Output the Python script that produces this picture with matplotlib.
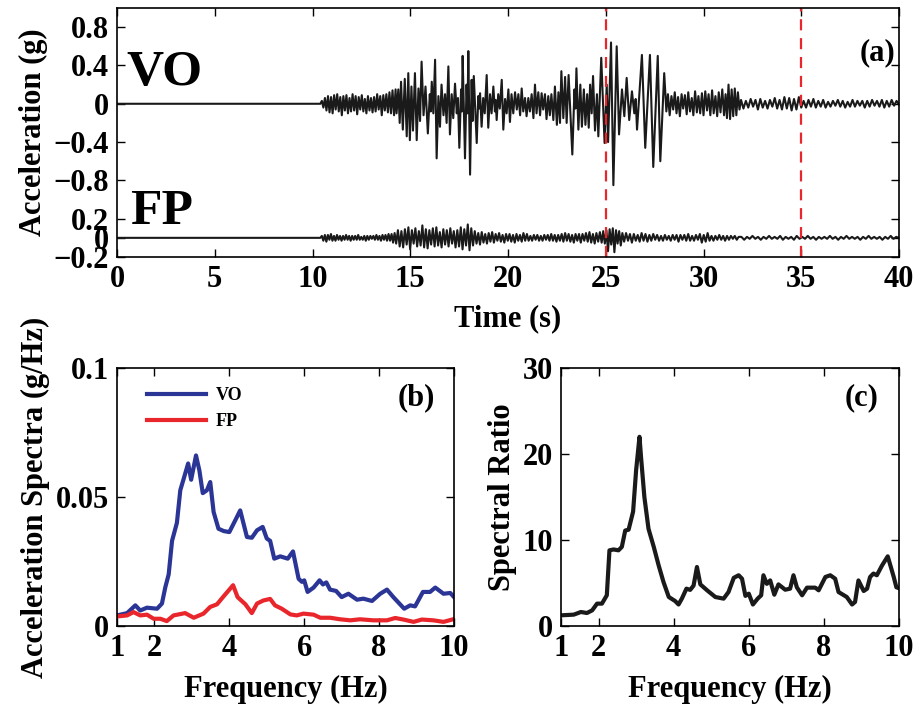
import numpy as np
import matplotlib
matplotlib.use("Agg")
import matplotlib.pyplot as plt

plt.rcParams['font.family'] = ['Liberation Serif', 'DejaVu Serif']
plt.rcParams['font.weight'] = 'bold'
plt.rcParams['axes.unicode_minus'] = True

# ---------------- Panel (a): acceleration time histories ----------------
# VO: quiet pre-event then small high-frequency arrivals (10.4-14.25 s)
vo_pre = [0, 0.03, -0.04, 0.06, -0.07, 0.08, -0.09, 0.07, -0.1, 0.09, -0.06, 0.1, -0.08, 0.07,
          -0.12, 0.08, -0.07, 0.09, -0.1, 0.06, -0.08, 0.1, -0.07, 0.08, -0.11, 0.07, -0.06, 0.09,
          -0.08, 0.05, -0.1, 0.08, -0.07, 0.06, -0.09, 0.07, -0.08, 0.1, -0.06, 0.08, -0.12, 0.09,
          -0.07, 0.1, -0.09, 0.12, -0.1, 0.14, -0.12, 0.15]
vo_pre_span = (10.4, 14.25)

# VO strong-motion part: (time, acceleration) extremes
vo_main_t = [14.30, 14.39, 14.46, 14.53, 14.62, 14.72, 14.82, 14.90, 14.98, 15.06, 15.14, 15.24,
             15.33, 15.42, 15.50, 15.58, 15.68, 15.78, 15.90, 16.00, 16.05, 16.10, 16.18, 16.27,
             16.35, 16.44, 16.52, 16.60, 16.70, 16.78, 16.86, 16.95, 17.03, 17.12, 17.20, 17.29,
             17.38, 17.44, 17.51, 17.60, 17.64, 17.68, 17.80, 17.88, 17.93, 17.97, 18.06, 18.14,
             18.19, 18.25, 18.40, 18.48, 18.52, 18.57, 18.65, 18.73, 18.81, 18.91, 18.99, 19.08,
             19.16, 19.25, 19.33, 19.37, 19.42, 19.50, 19.58, 19.68, 19.76, 19.85, 19.93, 20.02,
             20.10, 20.18, 20.27, 20.36, 20.45, 20.53, 20.62, 20.70, 20.78, 20.87, 20.95, 21.04,
             21.12, 21.21, 21.30, 21.38, 21.46, 21.55, 21.64, 21.72, 21.80, 21.89, 21.97, 22.06,
             22.14, 22.22, 22.32, 22.40, 22.50, 22.58, 22.66, 22.73, 22.83, 22.92, 23.00, 23.10,
             23.29, 23.40, 23.45, 23.50, 23.60, 23.70, 23.78, 23.88, 23.96, 24.05, 24.13, 24.20,
             24.28, 24.35, 24.45, 24.55, 24.62, 24.77, 24.94, 25.05, 25.12, 25.27, 25.39, 25.56,
             25.68, 25.83, 25.95, 26.07, 26.20, 26.34, 26.46, 26.53, 26.60, 26.85, 27.02, 27.26,
             27.43, 27.66, 27.79, 27.99, 28.10, 28.18, 28.27, 28.36, 28.45, 28.53, 28.62, 28.70,
             28.79, 28.88, 28.96, 29.05, 29.14, 29.22, 29.31, 29.40, 29.48, 29.57, 29.66, 29.74,
             29.83, 29.92, 30.00, 30.09, 30.18, 30.26, 30.35, 30.44, 30.52, 30.61, 30.70, 30.78,
             30.87, 30.96, 31.05, 31.13, 31.20, 31.28, 31.36, 31.44, 31.52, 31.60, 31.68, 31.76,
             31.84]
vo_main_a = [-0.10, 0.15, -0.20, 0.23, -0.27, 0.26, -0.34, 0.32, -0.38, 0.18, -0.28, 0.32,
             -0.38, 0.16, -0.18, 0.44, -0.12, 0.18, -0.31, 0.10, -0.08, 0.23, -0.10, 0.46,
             -0.57, 0.08, -0.24, 0.20, -0.12, 0.10, -0.20, 0.39, -0.32, 0.10, -0.15, 0.21,
             -0.10, 0.06, -0.46, 0.15, -0.08, 0.50, -0.57, 0.20, -0.10, 0.55, -0.74, 0.25,
             -0.18, 0.29, -0.41, 0.08, -0.05, 0.11, -0.24, 0.06, -0.10, 0.30, -0.25, 0.10,
             -0.10, 0.18, -0.08, 0.04, -0.17, 0.10, -0.05, 0.25, -0.27, 0.05, -0.10, 0.15,
             -0.19, 0.10, -0.10, 0.12, -0.06, 0.10, -0.12, 0.16, -0.08, 0.06, -0.13, 0.06,
             -0.08, 0.10, -0.15, 0.20, -0.10, 0.12, -0.12, 0.11, -0.06, 0.10, -0.16, 0.08,
             -0.12, 0.10, -0.17, 0.18, -0.22, 0.12, -0.20, 0.34, -0.15, 0.28, -0.20, 0.30,
             -0.53, 0.15, -0.05, 0.37, -0.27, 0.20, -0.24, 0.15, -0.22, 0.10, -0.25, 0.20,
             -0.10, 0.29, -0.28, 0.10, -0.34, 0.48, -0.41, 0.20, -0.40, 0.64, -0.85, 0.60,
             -0.32, 0.15, -0.13, 0.27, -0.17, 0.13, -0.10, 0.05, -0.27, 0.51, -0.46, 0.51,
             -0.66, 0.50, -0.60, 0.32, -0.08, 0.10, -0.12, 0.08, -0.06, 0.12, -0.10, 0.07,
             -0.13, 0.10, -0.05, 0.09, -0.11, 0.12, -0.08, 0.06, -0.12, 0.13, -0.09, 0.08,
             -0.10, 0.11, -0.12, 0.13, -0.07, 0.10, -0.12, 0.14, -0.10, 0.08, -0.13, 0.12,
             -0.09, 0.15, -0.12, 0.10, -0.15, 0.20, -0.16, 0.15, -0.13, 0.16, -0.12, 0.12,
             -0.06]

# VO coda
vo_tail1 = [0.04, -0.05, 0.03, -0.04, 0.05, -0.03, 0.04, -0.06, 0.05, -0.04, 0.03, -0.05, 0.04,
            -0.03, 0.06, -0.05, 0.04, -0.06, 0.07, -0.05, 0.06, -0.07, 0.05, -0.06, 0.07, -0.04]
vo_tail1_span = (31.92, 35.0)
vo_tail2 = [0.03, -0.04, 0.04, -0.03, 0.05, -0.04, 0.03, -0.03, 0.04, -0.04, 0.02, -0.03, 0.03,
            -0.02, 0.04, -0.03, 0.03, -0.04, 0.02, -0.03, 0.04, -0.03, 0.03, -0.02, 0.03, -0.04,
            0.03, -0.03, 0.04, -0.02, 0.03, -0.03, 0.04, -0.04, 0.03, -0.03, 0.04, -0.02, 0.03,
            -0.01]
vo_tail2_span = (35.12, 40.0)

# FP record (plotted with a vertical offset)
fp_seg1 = [0, 0.02, -0.03, 0.03, -0.04, 0.03, -0.02, 0.04, -0.03, 0.02, -0.03, 0.03, -0.02, 0.02,
           -0.03, 0.02, -0.02, 0.03, -0.02, 0.02, -0.03, 0.02, -0.02, 0.02, -0.02, 0.03, -0.02,
           0.01, -0.02, 0.02, -0.03, 0.02, -0.02, 0.02, -0.01, 0.02, -0.02, 0.03, -0.02, 0.02,
           -0.03, 0.03, -0.02, 0.03, -0.03, 0.04, -0.03, 0.04, -0.05, 0.05]
fp_seg1_span = (10.4, 14.2)
fp_seg2 = [-0.06, 0.08, -0.09, 0.07, -0.1, 0.09, -0.07, 0.11, -0.12, 0.08, -0.06, 0.1, -0.09, 0.07,
           -0.08, 0.13, -0.1, 0.09, -0.11, 0.08, -0.07, 0.1, -0.09, 0.11, -0.08, 0.06, -0.1, 0.09,
           -0.07, 0.08, -0.09, 0.1, -0.06, 0.07, -0.1, 0.08, -0.09, 0.11, -0.12, 0.09, -0.08, 0.14,
           -0.13, 0.1, -0.08, 0.07]
fp_seg2_span = (14.28, 18.3)
fp_seg3 = [-0.06, 0.05, -0.07, 0.06, -0.05, 0.04, -0.06, 0.05, -0.04, 0.06, -0.05, 0.04, -0.03,
           0.05, -0.04, 0.03, -0.05, 0.04, -0.03, 0.04, -0.04, 0.03, -0.05, 0.04, -0.03, 0.03,
           -0.04, 0.05, -0.03, 0.04, -0.03, 0.02, -0.03, 0.03, -0.02, 0.03, -0.03, 0.02, -0.03,
           0.03, -0.02, 0.03, -0.03, 0.04, -0.03, 0.03, -0.04, 0.03, -0.03, 0.04, -0.04, 0.05,
           -0.03, 0.04, -0.04, 0.03, -0.05, 0.04, -0.03, 0.04, -0.05, 0.04, -0.03, 0.05, -0.04,
           0.06, -0.05, 0.04, -0.06, 0.05, -0.04, 0.06]
fp_seg3_span = (18.39, 24.7)
fp_seg4 = [-0.05, 0.07, -0.06, 0.08, -0.14, 0.09, -0.07, 0.1, -0.15, 0.08, -0.06, 0.07, -0.08, 0.05]
fp_seg4_span = (24.79, 25.85)
fp_seg5 = [-0.04, 0.05, -0.03, 0.04, -0.05, 0.04, -0.03, 0.03, -0.04, 0.05, -0.03, 0.04, -0.04,
           0.03, -0.03, 0.04, -0.02, 0.03, -0.03, 0.02, -0.03, 0.03, -0.02, 0.02, -0.03, 0.03,
           -0.02, 0.03, -0.04, 0.03, -0.02, 0.03, -0.03, 0.04, -0.03, 0.02, -0.03, 0.03, -0.02,
           0.04, -0.05, 0.03, -0.04, 0.05, -0.03, 0.02, -0.03, 0.02, -0.02, 0.03, -0.02, 0.02,
           -0.03, 0.02, -0.02, 0.02, -0.01, 0.02, -0.02, 0.01]
fp_seg5_span = (25.94, 31.8)
fp_seg6 = [0.01, -0.02, 0.01, -0.01, 0.02, -0.01, 0.01, -0.02, 0.01, -0.01, 0.02, -0.01, 0.01,
           -0.01, 0.02, -0.02, 0.01, -0.01, 0.01, -0.02, 0.02, -0.01, 0.01, -0.01, 0.02, -0.01,
           0.01, -0.02, 0.01, -0.01, 0.01, -0.01, 0.02, -0.01, 0.01, -0.02, 0.01, -0.01, 0.02,
           -0.01, 0.01, -0.01, 0.01, -0.02, 0.01, -0.01, 0.02, -0.01, 0.01, -0.01, 0.01, -0.02,
           0.01, -0.01, 0.02, -0.01, 0.01, 0.0]
fp_seg6_span = (31.94, 40.0)

fp_offset = -1.4
window_lines = [25, 35]
a_yticks = [-1.6, -1.4, -1.2, -0.8, -0.4, 0, 0.4, 0.8]
a_yticklabels = ['\u22120.2', '0', '0.2', '\u22120.8', '\u22120.4', '0', '0.4', '0.8']

# ---------------- Panel (b): acceleration spectra ----------------
vo_f = [1.0, 1.27, 1.49, 1.62, 1.8, 2.07, 2.2, 2.29, 2.38, 2.47, 2.6, 2.69, 2.82, 2.9, 2.98, 3.11,
        3.2, 3.29, 3.4, 3.49, 3.58, 3.71, 3.85, 4.0, 4.16, 4.29, 4.47, 4.6, 4.74, 4.89, 5.0, 5.09,
        5.2, 5.36, 5.56, 5.7, 5.85, 5.94, 6.0, 6.09, 6.25, 6.41, 6.5, 6.59, 6.69, 6.85, 7.0, 7.18,
        7.41, 7.58, 7.81, 8.03, 8.21, 8.38, 8.67, 8.83, 8.96, 9.17, 9.36, 9.5, 9.72, 9.9, 10.0]
vo_spec = [0.0041, 0.005, 0.008, 0.006, 0.0071, 0.0067, 0.0087, 0.015, 0.020, 0.033, 0.040, 0.0526,
           0.059, 0.063, 0.0567, 0.0661, 0.0603, 0.0515, 0.0526, 0.0558, 0.0442, 0.0377, 0.0368,
           0.0364, 0.041, 0.0448, 0.0345, 0.0342, 0.0371, 0.0384, 0.0339, 0.033, 0.0261, 0.027,
           0.0261, 0.0289, 0.0183, 0.0171, 0.0177, 0.0132, 0.0149, 0.0177, 0.0161, 0.0169, 0.0141,
           0.0136, 0.0112, 0.0125, 0.0102, 0.0106, 0.0097, 0.0125, 0.0141, 0.0112, 0.0067, 0.008,
           0.0076, 0.0132, 0.0132, 0.0149, 0.0125, 0.0128, 0.0112]
fp_f = [1.0, 1.27, 1.44, 1.62, 1.8, 1.98, 2.16, 2.33, 2.51, 2.82, 3.05, 3.31, 3.49, 3.67, 3.83, 4.1,
        4.22, 4.43, 4.6, 4.74, 4.91, 5.09, 5.22, 5.4, 5.63, 5.8, 5.98, 6.25, 6.43, 6.69, 6.96, 7.23,
        7.49, 7.85, 8.21, 8.43, 8.65, 8.92, 9.14, 9.45, 9.72, 10.0]
fp_spec = [0.0037, 0.0041, 0.0054, 0.0041, 0.0044, 0.0028, 0.0028, 0.0019, 0.0041, 0.005, 0.0032,
           0.0048, 0.0074, 0.0084, 0.0112, 0.0158, 0.0112, 0.0084, 0.005, 0.0087, 0.0099, 0.0105,
           0.008, 0.0067, 0.0045, 0.0041, 0.0048, 0.0044, 0.0032, 0.0032, 0.0026, 0.0022, 0.0026,
           0.0022, 0.0022, 0.0031, 0.0025, 0.0016, 0.0025, 0.0022, 0.0016, 0.0027]

# ---------------- Panel (c): spectral ratio ----------------
ratio_f = [1.0, 1.34, 1.53, 1.69, 1.83, 1.96, 2.09, 2.22, 2.29, 2.4, 2.53, 2.62, 2.71, 2.8, 2.92,
           3.0, 3.09, 3.13, 3.22, 3.33, 3.47, 3.6, 3.73, 3.87, 4.04, 4.13, 4.22, 4.34, 4.44, 4.53,
           4.62, 4.71, 4.89, 5.11, 5.33, 5.46, 5.6, 5.73, 5.82, 5.91, 6.0, 6.11, 6.24, 6.33, 6.39,
           6.48, 6.57, 6.68, 6.79, 6.97, 7.1, 7.19, 7.28, 7.42, 7.55, 7.77, 7.86, 8.04, 8.17, 8.3,
           8.39, 8.61, 8.75, 8.83, 8.92, 9.06, 9.15, 9.23, 9.32, 9.41, 9.55, 9.7, 9.86, 9.93, 10.0]
ratio = [1.24, 1.32, 1.63, 1.51, 1.82, 2.6, 2.6, 3.57, 8.8, 8.9, 8.8, 9.2, 11.1, 11.2, 13.3, 18.1,
         22.0, 19.7, 15.0, 11.3, 9.2, 7.05, 5.1, 3.37, 2.9, 2.5, 3.2, 4.34, 4.2, 4.7, 6.86, 4.84,
         4.15, 3.37, 3.18, 3.95, 5.6, 5.9, 5.5, 3.5, 3.76, 2.5, 3.2, 3.57, 5.9, 4.9, 5.3, 3.64,
         4.84, 4.22, 4.34, 5.9, 4.5, 3.57, 4.46, 4.46, 4.15, 5.7, 5.9, 5.5, 3.95, 3.37, 2.5, 2.8,
         5.3, 4.07, 4.34, 5.7, 6.1, 5.9, 7.05, 8.1, 5.7, 4.5, 4.4]

freq_ticks = [1, 2, 4, 6, 8, 10]

# ---------------- assemble series ----------------
def seg(vals, span):
    return list(np.linspace(span[0], span[1], len(vals))), list(vals)

t_vo, a_vo = [0.0], [0.0]
for tt, vv in [seg(vo_pre, vo_pre_span), (vo_main_t, vo_main_a),
               seg(vo_tail1, vo_tail1_span), seg(vo_tail2, vo_tail2_span)]:
    t_vo += tt
    a_vo += vv
t_fp, a_fp = [0.0], [0.0]
for tt, vv in [seg(fp_seg1, fp_seg1_span), seg(fp_seg2, fp_seg2_span), seg(fp_seg3, fp_seg3_span),
               seg(fp_seg4, fp_seg4_span), seg(fp_seg5, fp_seg5_span), seg(fp_seg6, fp_seg6_span)]:
    t_fp += tt
    a_fp += vv
t_vo = np.array(t_vo); a_vo = np.array(a_vo)
t_fp = np.array(t_fp); a_fp = np.array(a_fp)

RED = '#e8262b'
BLUE = '#2b3596'
TICK = 22

fig = plt.figure(figsize=(9.17, 7.04), dpi=100)

def style(ax):
    ax.tick_params(direction='in', top=True, right=True, labelsize=TICK, length=6, width=1,
                   pad=6)
    for s in ax.spines.values():
        s.set_linewidth(1.2)

# (a)
axa = fig.add_axes([117/917, 1-257/704, (899-117)/917, (257-8)/704])
axa.plot(t_vo, a_vo, color='#1a1a1a', lw=1.5)
axa.plot(t_fp, np.array(a_fp) + fp_offset, color='#1a1a1a', lw=1.5)
for x in window_lines:
    axa.axvline(x, color=RED, lw=1.6, ls=(0, (5, 3.5)))
axa.set_xlim(0, 40)
axa.set_ylim(-1.6, 1.0)
axa.set_xticks([0, 5, 10, 15, 20, 25, 30, 35, 40])
axa.set_yticks(a_yticks)
axa.set_yticklabels(a_yticklabels)
style(axa)
axa.set_xlabel('Time (s)', fontsize=TICK, fontweight='bold', labelpad=7)
axa.set_ylabel('Acceleration (g)', fontsize=TICK, fontweight='bold', labelpad=4)
axa.text(0.012, 0.74, 'VO', transform=axa.transAxes, fontsize=37, fontweight='bold',
         va='center', ha='left')
axa.text(0.017, 0.18, 'FP', transform=axa.transAxes, fontsize=37, fontweight='bold',
         va='center', ha='left')
axa.text(0.995, 0.82, '(a)', transform=axa.transAxes, fontsize=TICK, fontweight='bold',
         va='center', ha='right')

# (b)
axb = fig.add_axes([117/917, 1-626/704, (454-117)/917, (626-368)/704])
axb.plot(vo_f, vo_spec, color=BLUE, lw=3.0, label='VO')
axb.plot(fp_f, fp_spec, color=RED, lw=3.0, label='FP')
axb.set_xlim(1, 10)
axb.set_ylim(0, 0.1)
axb.set_xticks(freq_ticks)
axb.set_yticks([0, 0.05, 0.1])
axb.set_yticklabels(['0', '0.05', '0.1'])
style(axb)
axb.set_xlabel('Frequency (Hz)', fontsize=TICK, fontweight='bold', labelpad=8)
axb.set_ylabel('Acceleration Spectra (g/Hz)', fontsize=TICK, fontweight='bold', labelpad=4)
leg = axb.legend(loc='upper left', frameon=False, fontsize=13, handlelength=3.3,
                 bbox_to_anchor=(0.04, 0.99), labelspacing=0.5, handletextpad=0.5)
axb.text(0.944, 0.885, '(b)', transform=axb.transAxes, fontsize=TICK, fontweight='bold',
         va='center', ha='right')

# (c)
axc = fig.add_axes([561/917, 1-626/704, (899-561)/917, (626-368)/704])
axc.plot(ratio_f, ratio, color='#1a1a1a', lw=3.0)
axc.set_xlim(1, 10)
axc.set_ylim(0, 30)
axc.set_xticks(freq_ticks)
axc.set_yticks([0, 10, 20, 30])
style(axc)
axc.set_xlabel('Frequency (Hz)', fontsize=TICK, fontweight='bold', labelpad=8)
axc.set_ylabel('Spectral Ratio', fontsize=TICK, fontweight='bold', labelpad=4)
axc.text(0.938, 0.885, '(c)', transform=axc.transAxes, fontsize=TICK, fontweight='bold',
         va='center', ha='right')

fig.savefig('out.png', dpi=100)
